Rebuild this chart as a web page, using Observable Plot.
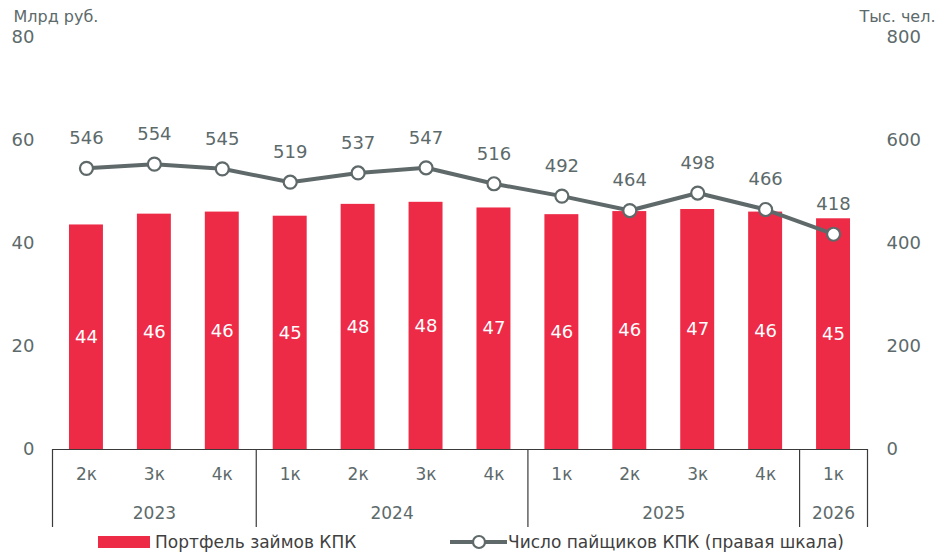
<!DOCTYPE html>
<html>
<head>
<meta charset="utf-8">
<script src="https://cdn.jsdelivr.net/npm/d3@7"></script>
<script src="https://cdn.jsdelivr.net/npm/@observablehq/plot@0.6"></script>
<style>
  body { margin: 0; background: #fff; font-family: "DejaVu Sans", sans-serif; }
  #wrap { width: 938px; height: 555px; position: relative; overflow: hidden; }
  #legend { position: relative; height: 27px; font-size: 17px; color: #404040; }
  .item { position: absolute; top: 0; height: 27px; display: flex; align-items: center; white-space: nowrap; }
  .sw { display: inline-block; width: 52px; height: 12px; background: #ee2b47; margin-right: 5px; }
</style>
</head>
<body>
<div id="wrap">
  <div id="chart"></div>
  <div id="legend"></div>
</div>
<script>
// ---- data ----
const quarters = ["2к","3к","4к","1к","2к","3к","4к","1к","2к","3к","4к","1к"];
const years    = ["2023","2023","2023","2024","2024","2024","2024","2025","2025","2025","2025","2026"];
const portfolio = [43.6, 45.7, 46.1, 45.3, 47.6, 48.0, 46.9, 45.6, 46.2, 46.6, 46.1, 44.8]; // млрд руб.
const members   = [546, 554, 545, 519, 537, 547, 516, 492, 464, 498, 466, 418];            // тыс. чел.
const leftTicks  = [0, 20, 40, 60, 80];
const rightTicks = [0, 200, 400, 600, 800];
const seriesNames = ["Портфель займов КПК", "Число пайщиков КПК (правая шкала)"];
const axisTitles = ["Млрд руб.", "Тыс. чел."];

const RATIO = 10; // right scale / left scale
const RED = "#ee2b47", GREY = "#5f696a", TXT = "#5d6a6b", AXIS = "#3a3a3a";

const rows = quarters.map((q, i) => ({i, q, year: years[i], p: portfolio[i], m: members[i]}));
const groups = d3.groups(rows, d => d.year).map(([year, g]) => ({
  year,
  mid: d3.mean(g, d => d.i),
  start: d3.min(g, d => d.i) - 0.5,
  end: d3.max(g, d => d.i) + 0.5
}));
const separators = groups.map(g => g.start).concat([groups[groups.length - 1].end]);

const W = 938, H = 528, mL = 52, mR = 71, mT = 37, mB = 79;

const chart = Plot.plot({
  width: W, height: H,
  marginLeft: mL, marginRight: mR, marginTop: mT, marginBottom: mB,
  style: {fontFamily: "DejaVu Sans, sans-serif", fontSize: "17px", color: TXT, background: "#fff"},
  x: {type: "linear", domain: [-0.5, quarters.length - 0.5]},
  y: {domain: [0, 80]},
  marks: [
    Plot.rectY(rows, {x1: d => d.i - 0.25, x2: d => d.i + 0.25, y: "p", fill: RED}),
    Plot.text(rows, {x: "i", y: d => d.p / 2, text: d => d3.format(".0f")(d.p), fill: "#fff", fontSize: 18}),
    Plot.ruleY([0], {stroke: AXIS, strokeWidth: 1.2}),
    Plot.ruleX(separators, {x: d => d, y1: () => 0, y2: () => 0, insetBottom: -78, stroke: AXIS, strokeWidth: 1.2}),
    Plot.line(rows, {x: "i", y: d => d.m / RATIO, stroke: GREY, strokeWidth: 4}),
    Plot.dot(rows, {x: "i", y: d => d.m / RATIO, r: 6.5, fill: "#fff", stroke: GREY, strokeWidth: 2.2}),
    Plot.text(rows, {x: "i", y: d => d.m / RATIO, text: d => d.m, dy: -30, fill: TXT, fontSize: 18}),
    Plot.axisY({anchor: "left", ticks: leftTicks, tickSize: 0, tickPadding: 18, label: null, fontSize: 18}),
    Plot.axisY({anchor: "right", ticks: rightTicks.map(v => v / RATIO), tickFormat: v => v * RATIO, tickSize: 0, tickPadding: 19, label: null, fontSize: 18}),
    Plot.axisX({ticks: rows.map(d => d.i), tickFormat: i => quarters[i], tickSize: 0, tickPadding: 18, label: null, fontSize: 17}),
    Plot.axisX({ticks: groups.map(g => g.mid), tickFormat: v => groups.find(g => g.mid === v).year, tickSize: 0, tickPadding: 57, label: null, fontSize: 17}),
    Plot.text([axisTitles[0]], {frameAnchor: "top-left", text: d => d, textAnchor: "start", dx: -39, dy: -27, fill: TXT, fontSize: 16}),
    Plot.text([axisTitles[1]], {frameAnchor: "top-right", text: d => d, textAnchor: "end", dx: 68, dy: -27, fill: TXT, fontSize: 16})
  ]
});
document.getElementById("chart").appendChild(chart);

const legend = document.getElementById("legend");
legend.innerHTML =
  `<div class="item" style="left:98px"><span class="sw"></span>${seriesNames[0]}</div>` +
  `<div class="item" style="left:450px"><svg width="57" height="16" style="margin-right:1px"><line x1="0" y1="8" x2="57" y2="8" stroke="${GREY}" stroke-width="4"/><circle cx="29" cy="8" r="6" fill="#fff" stroke="${GREY}" stroke-width="2.2"/></svg>${seriesNames[1]}</div>`;
</script>
</body>
</html>
